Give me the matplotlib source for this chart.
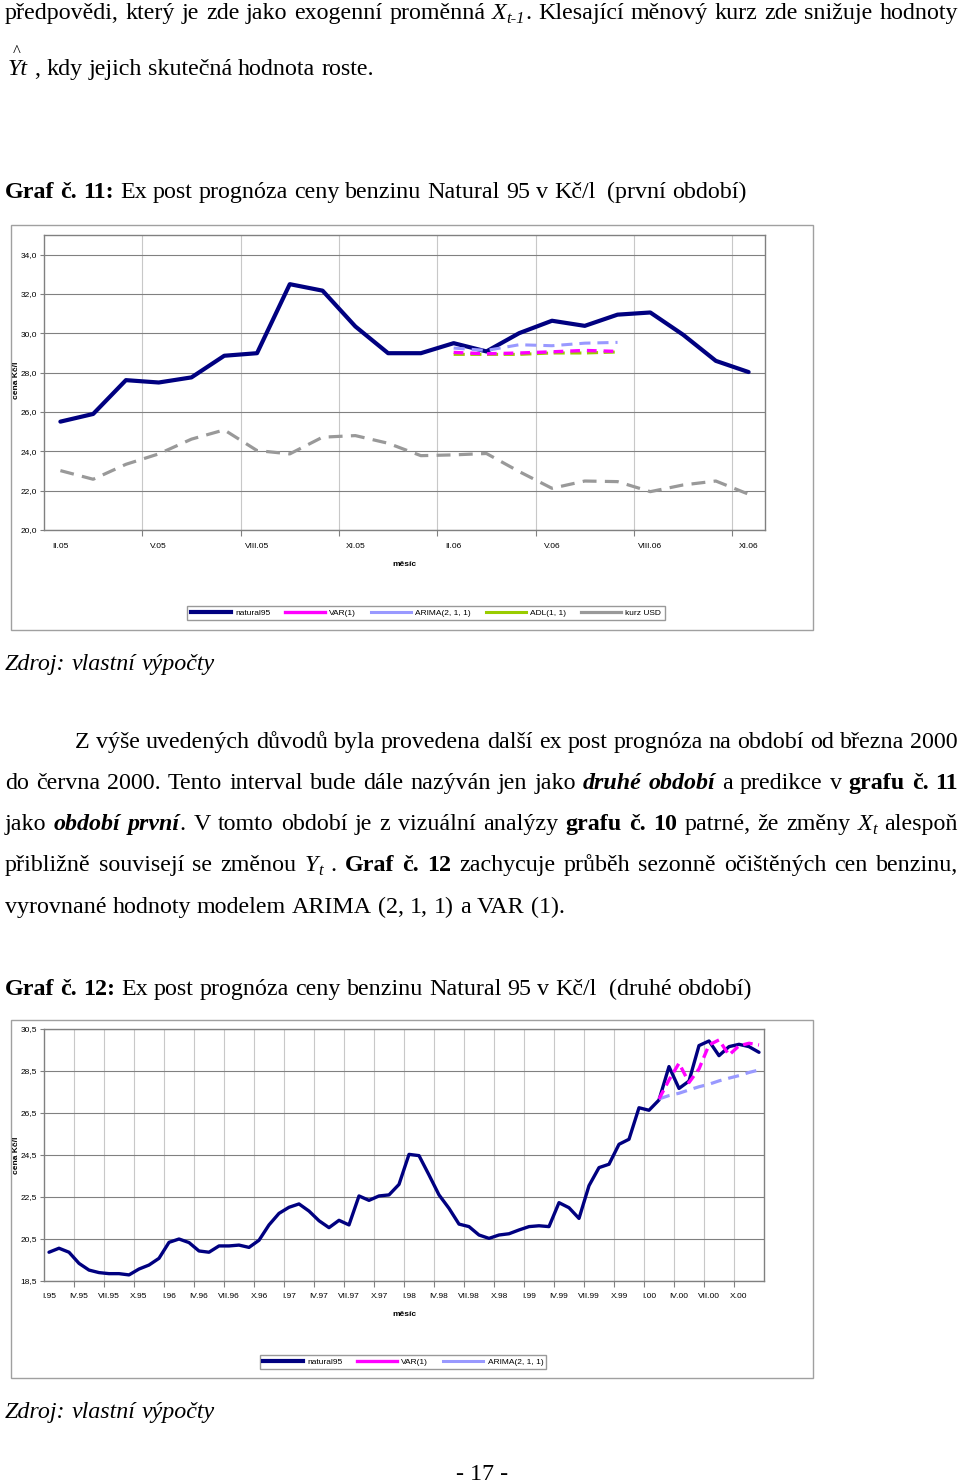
import numpy as np
import matplotlib.pyplot as plt
from matplotlib.patches import Rectangle
from matplotlib.lines import Line2D

plt.rcParams['lines.scale_dashes'] = False

W, H = 960, 1484
SERIF = 'Liberation Serif'
SANS = 'Liberation Sans'
FS = 17.3

# graf 11 - první období (II.05 - XI.06)
mesice1 = ["II.05", "III.05", "IV.05", "V.05", "VI.05", "VII.05", "VIII.05", "IX.05",
           "X.05", "XI.05", "XII.05", "I.06", "II.06", "III.06", "IV.06", "V.06",
           "VI.06", "VII.06", "VIII.06", "IX.06", "X.06", "XI.06"]
natural95_1 = [25.51, 25.9, 27.62, 27.5, 27.76, 28.86, 28.99, 32.5, 32.17, 30.35, 28.99,
               28.99, 29.5, 29.08, 30.01, 30.64, 30.38, 30.95, 31.06, 29.93, 28.6, 28.03]
kurz_usd = [23.02, 22.58, 23.34, 23.87, 24.62, 25.09, 24.04, 23.87, 24.72, 24.8, 24.41,
            23.78, 23.82, 23.89, 22.97, 22.12, 22.49, 22.46, 21.95, 22.29, 22.49, 21.82]
# predikce II.06 - VII.06
var1_1 = [29.03, 28.96, 29.0, 29.06, 29.13, 29.08]
arima_1 = [29.25, 29.13, 29.42, 29.37, 29.5, 29.54]
adl_1 = [28.93, 28.93, 28.93, 29.0, 29.0, 29.05]

# graf 12 - druhé období (I.95 - XII.00)
rimske = ["I", "II", "III", "IV", "V", "VI", "VII", "VIII", "IX", "X", "XI", "XII"]
roky = ["95", "96", "97", "98", "99", "00"]
mesice2 = [m + "." + r for r in roky for m in rimske]
natural95_2 = [19.87, 20.06, 19.87, 19.34, 19.02, 18.9, 18.85, 18.85, 18.79, 19.07, 19.26, 19.58,
               20.34, 20.5, 20.33, 19.93, 19.87, 20.17, 20.17, 20.21, 20.1, 20.44, 21.17, 21.72,
               22.01, 22.17, 21.83, 21.37, 21.04, 21.39, 21.17, 22.55, 22.34, 22.55, 22.6, 23.1,
               24.53, 24.47, 23.55, 22.6, 21.96, 21.21, 21.09, 20.69, 20.53, 20.69, 20.75, 20.93,
               21.09, 21.13, 21.09, 22.23, 21.99, 21.48, 23.04, 23.9, 24.06, 25.01, 25.25, 26.75,
               26.63, 27.12, 28.71, 27.67, 28.02, 29.71, 29.93, 29.23, 29.66, 29.77, 29.66, 29.39]
# predikce II.00 - XII.00
var1_2 = [27.17, 28.07, 28.87, 27.95, 28.6, 29.74, 29.98, 29.26, 29.7, 29.82, 29.74]
arima_2 = [27.17, 27.33, 27.44, 27.6, 27.75, 27.87, 28.03, 28.16, 28.28, 28.43, 28.55]

NAVY = '#000080'
MAG = '#ff00ff'
LBLUE = '#9999ff'
GREEN = '#99cc00'
GRAY = '#999999'

fig = plt.figure(figsize=(9.6, 14.84), dpi=100)
renderer = fig.canvas.get_renderer()

STYLES = {'n': {}, 'b': {'weight': 'bold'}, 'i': {'style': 'italic'},
          'bi': {'weight': 'bold', 'style': 'italic'}, 's': {'style': 'italic', 'size': 12}}


def piece(x, ybase, txt, kind):
    kw = dict(family=SERIF, size=FS, color='black')
    kw.update(STYLES[kind])
    dy = 4 if kind == 's' else 0
    return fig.text(x / W, 1 - (ybase + dy) / H, txt, va='baseline', ha='left', **kw)


def line(words, ybase, x0, x1=None):
    objs = []
    total = 0
    for w in words:
        ps = []
        for txt, kind in w:
            t = piece(0, ybase, txt, kind)
            ps.append((t, t.get_window_extent(renderer).width, kind))
        objs.append(ps)
        total += sum(p[1] for p in ps)
    if x1 is not None and len(words) > 1:
        gap = (x1 - x0 - total) / (len(words) - 1)
    else:
        gap = FS * 100 / 72 * 0.25
    x = x0
    for ps in objs:
        for t, w, kind in ps:
            dy = 4 if kind == 's' else 0
            t.set_position((x / W, 1 - (ybase + dy) / H))
            x += w
        x += gap


def words(s, kind='n'):
    return [[(w.replace('_', '\u00a0'), kind)] for w in s.split()]


# text nad grafem 11
line(words("předpovědi, který je zde jako exogenní proměnná")
     + [[('X', 'i'), ('t-1', 's'), ('.', 'n')]]
     + words("Klesající měnový kurz zde snižuje hodnoty"), 19, 5, 958)
fig.text(17 / W, 1 - 56 / H, '^', family=SERIF, size=12, ha='center', va='baseline')
line([[('Yt', 'i')]] + words(", kdy jejich skutečná hodnota roste."), 75, 8)

line(words("Graf č. 11:", 'b') + words("Ex post prognóza ceny benzinu Natural 95 v Kč/l _(první období)"), 198, 5)
line(words("Zdroj: vlastní výpočty", 'i'), 670, 5)

# odstavec
line(words("Z výše uvedených důvodů byla provedena další ex post prognóza na období od března 2000"),
     748, 75, 958)
line(words("do června 2000. Tento interval bude dále nazýván jen jako") + words("druhé období", 'bi')
     + words("a predikce v") + words("grafu č. 11", 'b'), 789, 5, 958)
line(words("jako") + [[('období', 'bi')], [('první', 'bi'), ('.', 'n')]]
     + words("V tomto období je z vizuální analýzy") + words("grafu č. 10", 'b')
     + words("patrné, že změny") + [[('X', 'i'), ('t', 's')]] + words("alespoň"), 830, 5, 958)
line(words("přibližně souvisejí se změnou") + [[('Y', 'i'), ('t', 's')]] + words(".")
     + words("Graf č. 12", 'b') + words("zachycuje průběh sezonně očištěných cen benzinu,"),
     871, 5, 958)
line(words("vyrovnané hodnoty modelem ARIMA (2, 1, 1) a VAR (1)."), 913, 5)

line(words("Graf č. 12:", 'b') + words("Ex post prognóza ceny benzinu Natural 95 v Kč/l _(druhé období)"), 995, 5)
line(words("Zdroj: vlastní výpočty", 'i'), 1418, 5)
fig.text(482 / W, 1 - 1480 / H, '- 17 -', family=SERIF, size=FS, ha='center', va='baseline')


def style_axes(ax, n, labels, step, ylim, yticks):
    ax.set_xlim(-0.5, n - 0.5)
    ax.set_ylim(*ylim)
    ax.set_yticks(yticks)
    ax.set_yticklabels([f"{v:.1f}".replace('.', ',') for v in yticks], family=SANS, fontsize=6)
    bounds = np.arange(step - 0.5, n - 0.5, step)
    ax.set_xticks(bounds)
    ax.set_xticklabels([])
    ax.set_xticks(np.arange(0, n, step), minor=True)
    ax.set_xticklabels(labels[::step], minor=True, family=SANS, fontsize=6)
    ax.tick_params(axis='x', which='major', length=4, color='#808080', direction='out')
    ax.tick_params(axis='x', which='minor', length=0, pad=9)
    ax.tick_params(axis='y', length=3, color='#808080', pad=2)
    ax.grid(axis='y', color='#808080', lw=0.8)
    for b in bounds:
        ax.axvline(b, color='#c8c8c8', lw=0.8, zorder=0)
    for s in ax.spines.values():
        s.set_color('#808080')
        s.set_linewidth(1.0)
    ax.set_axisbelow(True)


# graf 11
x1 = np.arange(len(mesice1))
ax1 = fig.add_axes([44 / W, 1 - 530 / H, 721 / W, 295 / H])
style_axes(ax1, len(mesice1), mesice1, 3, (20, 35), np.arange(20, 35, 2))
ax1.plot(x1, kurz_usd, color=GRAY, lw=2.3, dashes=(10, 6))
ax1.plot(x1, natural95_1, color=NAVY, lw=3, solid_joinstyle='round', solid_capstyle='round')
xf = x1[12:18]
ax1.plot(xf, adl_1, color=GREEN, lw=2.2, dashes=(8, 4))
ax1.plot(xf, var1_1, color=MAG, lw=2.4, dashes=(7, 5))
ax1.plot(xf, arima_1, color=LBLUE, lw=2.2, dashes=(8, 5))
fig.text(16 / W, 1 - 380 / H, 'cena Kč/l', rotation=90, family=SANS, fontsize=6, weight='bold',
         ha='center', va='center')
fig.text(404 / W, 1 - 565 / H, 'měsíc', family=SANS, fontsize=6, weight='bold', ha='center', va='center')

h1 = [Line2D([], [], color=NAVY, lw=3), Line2D([], [], color=MAG, lw=2.4),
      Line2D([], [], color=LBLUE, lw=2.2), Line2D([], [], color=GREEN, lw=2.2),
      Line2D([], [], color=GRAY, lw=2.3)]
fig.legend(h1, ['natural95', 'VAR(1)', 'ARIMA(2, 1, 1)', 'ADL(1, 1)', 'kurz USD'],
           loc='center', bbox_to_anchor=(426 / W, 1 - 613 / H), ncol=5,
           prop={'family': SANS, 'size': 6}, frameon=True, fancybox=False,
           edgecolor='#808080', handlelength=4.8, columnspacing=1.8, handletextpad=0.5,
           borderpad=0.4, borderaxespad=0)
fig.patches.append(Rectangle((11 / W, 1 - 630 / H), 802 / W, 405 / H, transform=fig.transFigure,
                             fill=False, edgecolor='#a0a0a0', lw=1))

# graf 12
x2 = np.arange(len(mesice2))
ax2 = fig.add_axes([44 / W, 1 - 1281 / H, 720 / W, 252 / H])
style_axes(ax2, len(mesice2), mesice2, 3, (18.5, 30.5), np.arange(18.5, 30.6, 2))
ax2.plot(x2, natural95_2, color=NAVY, lw=2.4, solid_joinstyle='round', solid_capstyle='round')
xf2 = x2[61:]
ax2.plot(xf2, arima_2, color=LBLUE, lw=2.3, dashes=(8, 5))
ax2.plot(xf2, var1_2, color=MAG, lw=2.4, dashes=(7, 4))
fig.text(16 / W, 1 - 1155 / H, 'cena Kč/l', rotation=90, family=SANS, fontsize=6, weight='bold',
         ha='center', va='center')
fig.text(404 / W, 1 - 1315 / H, 'měsíc', family=SANS, fontsize=6, weight='bold', ha='center', va='center')

h2 = [Line2D([], [], color=NAVY, lw=3), Line2D([], [], color=MAG, lw=2.4),
      Line2D([], [], color=LBLUE, lw=2.2)]
fig.legend(h2, ['natural95', 'VAR(1)', 'ARIMA(2, 1, 1)'],
           loc='center', bbox_to_anchor=(403 / W, 1 - 1362 / H), ncol=3,
           prop={'family': SANS, 'size': 6}, frameon=True, fancybox=False,
           edgecolor='#808080', handlelength=4.8, columnspacing=1.8, handletextpad=0.5,
           borderpad=0.4, borderaxespad=0)
fig.patches.append(Rectangle((11 / W, 1 - 1378 / H), 802 / W, 358 / H, transform=fig.transFigure,
                             fill=False, edgecolor='#a0a0a0', lw=1))

fig.savefig('out.png', dpi=100)
